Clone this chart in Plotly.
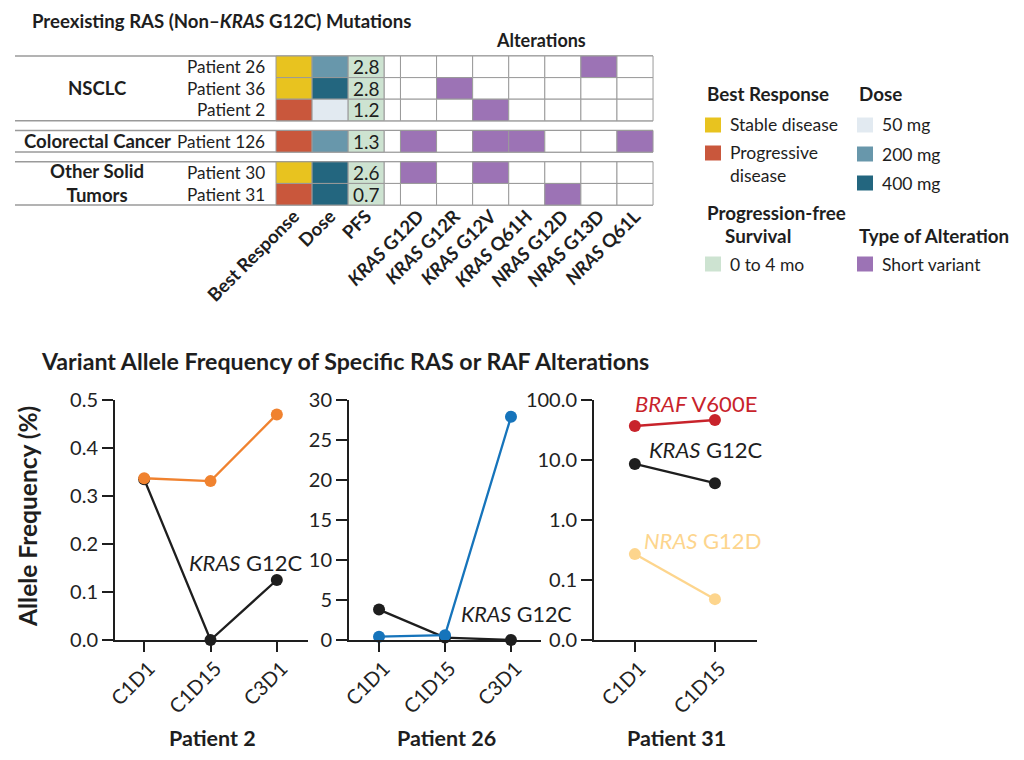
import plotly.graph_objects as go
import numpy as np

# page body has an 8px margin: the figure is sized to fit inside it
OFF = 8
W, H = 1024 - 2 * OFF, 760 - 2 * OFF
FONT = "Lato"
DARK = "#1e1e1e"

# ---------------- Top panel data ----------------
patients = ["Patient 26", "Patient 36", "Patient 2", "Patient 126", "Patient 30", "Patient 31"]
tumor_groups = ["NSCLC", "Colorectal Cancer", "Other Solid<br>Tumors"]
group_rows = [[0, 1, 2], [3], [4, 5]]
best_response = ["Stable disease", "Stable disease", "Progressive disease",
                 "Progressive disease", "Stable disease", "Progressive disease"]
dose = ["200 mg", "400 mg", "50 mg", "200 mg", "400 mg", "400 mg"]
pfs_months = [2.8, 2.8, 1.2, 1.3, 2.6, 0.7]
info_columns = ["Best Response", "Dose", "PFS"]
alteration_names = ["KRAS G12D", "KRAS G12R", "KRAS G12V", "KRAS Q61H",
                    "NRAS G12D", "NRAS G13D", "NRAS Q61L"]
alteration_present = [
    [0, 0, 0, 0, 0, 1, 0],
    [0, 1, 0, 0, 0, 0, 0],
    [0, 0, 1, 0, 0, 0, 0],
    [1, 0, 1, 1, 0, 0, 1],
    [1, 0, 1, 0, 0, 0, 0],
    [0, 0, 0, 0, 1, 0, 0],
]

response_colors = {"Stable disease": "#e8c31f", "Progressive disease": "#c9573c"}
dose_colors = {"50 mg": "#e2eaf1", "200 mg": "#6897ab", "400 mg": "#23667f"}
pfs_color = "#cde3d1"
variant_color = "#9c73b5"

# ---------------- Bottom panel data ----------------
visits = ["C1D1", "C1D15", "C3D1"]
p2_kras_g12v = [0.337, 0.331, 0.470]
p2_kras_g12c = [0.335, 0.0, 0.125]
p26_kras_g12c = [3.8, 0.3, 0.0]
p26_nras_g13d = [0.42, 0.6, 27.9]
p31_visits = ["C1D1", "C1D15"]
p31_braf_v600e = [36.9, 46.4]
p31_kras_g12c = [8.6, 4.1]
p31_nras_g12d = [0.27, 0.048]
p2_yticks = [0.0, 0.1, 0.2, 0.3, 0.4, 0.5]
p26_yticks = [0, 5, 10, 15, 20, 25, 30]
p31_yticks = [0.01, 0.1, 1, 10, 100]
p31_yticktext = ["0.0", "0.1", "1.0", "10.0", "100.0"]

ORANGE = "#f0822f"
BLUE = "#1674bb"
RED = "#c8232b"
LIGHT_ORANGE = "#fdd58d"


def pxx(x):
    return (x - OFF) / W


def pxy(y):
    return 1 - (y - OFF) / H


def note(x, y, text, size, color=DARK, xref="paper", yref="paper", xanchor="center",
         yanchor="middle", **kw):
    return dict(xref=xref, yref=yref, x=x, y=y, text=text, showarrow=False,
                xanchor=xanchor, yanchor=yanchor,
                font=dict(size=size, color=color, family=FONT), **kw)


fig = go.Figure()

# ---------------- grid geometry (in data units of the grid axis) ----------------
GAP = 0.45
row_top = []
pos = 0.0
for gi, rows in enumerate(group_rows):
    for r in rows:
        row_top.append(pos)
        pos += 1
    pos += GAP

col_left = [0, 1, 2]
spacer = (3, 3 + GAP)
alt_left = [3 + GAP + k for k in range(len(alteration_names))]
grid_right = alt_left[-1] + 1

CW, X0 = 36.08, 276.0   # px per column unit, px of column 0
RH, Y0 = 21.6, 56.0     # px per row unit, px of row 0
gx_dom = (10, 660)
gy_dom = (48, 207)

BORDER = "#9a9a9a"
shapes = []


def cell(x0, x1, y0, y1, fill):
    shapes.append(dict(type="rect", xref="x4", yref="y4", x0=x0, x1=x1, y0=y0, y1=y1,
                       fillcolor=fill, line=dict(color=BORDER, width=1), layer="above"))


annotations = []
for i, p in enumerate(patients):
    y0, y1 = row_top[i], row_top[i] + 1
    cell(col_left[0], col_left[0] + 1, y0, y1, response_colors[best_response[i]])
    cell(col_left[1], col_left[1] + 1, y0, y1, dose_colors[dose[i]])
    cell(col_left[2], col_left[2] + 1, y0, y1, pfs_color)
    cell(spacer[0], spacer[1], y0, y1, "white")
    for k, a in enumerate(alteration_names):
        cell(alt_left[k], alt_left[k] + 1, y0, y1,
             variant_color if alteration_present[i][k] else "white")
    annotations.append(note(col_left[2] + 0.5, y0 + 0.5, f"{pfs_months[i]:.1f}", 19,
                            xref="x4", yref="y4"))
    annotations.append(note((267 - X0) / CW, y0 + 0.5, p, 17.2, xref="x4", yref="y4",
                            xanchor="right"))

# group labels & separator lines
left_edge = (15 - X0) / CW
for gi, rows in enumerate(group_rows):
    top = row_top[rows[0]]
    bot = row_top[rows[-1]] + 1
    annotations.append(note((97 - X0) / CW, (top + bot) / 2, f"<b>{tumor_groups[gi]}</b>", 18.6,
                            xref="x4", yref="y4"))
    for yy in (top, bot):
        shapes.append(dict(type="line", xref="x4", yref="y4", x0=left_edge, x1=grid_right,
                           y0=yy, y1=yy, line=dict(color=BORDER, width=1.5), layer="below"))

# invisible trace to establish grid axes
fig.add_trace(go.Scatter(x=[0], y=[0], xaxis="x4", yaxis="y4", mode="markers",
                         marker=dict(opacity=0), hoverinfo="skip", showlegend=False))


def header(txt):
    parts = txt.split(" ", 1)
    if parts[0] in ("KRAS", "NRAS"):
        return f"<b><i>{parts[0]}</i> {parts[1]}</b>"
    return f"<b>{txt}</b>"


col_centers = [c + 0.5 for c in col_left] + [a + 0.5 for a in alt_left]
col_labels = [header(t) for t in info_columns + alteration_names]

# ---------------- bottom charts ----------------
def add_series(xs, ys, color, ax):
    fig.add_trace(go.Scatter(x=xs, y=ys, mode="lines+markers", xaxis="x" + ax, yaxis="y" + ax,
                             line=dict(color=color, width=2.3),
                             marker=dict(color=color, size=12), cliponaxis=False,
                             showlegend=False))


add_series(visits, p2_kras_g12c, DARK, "")
add_series(visits, p2_kras_g12v, ORANGE, "")
add_series(visits, p26_kras_g12c, DARK, "2")
add_series(visits, p26_nras_g13d, BLUE, "2")
add_series(p31_visits, p31_braf_v600e, RED, "3")
add_series(p31_visits, p31_kras_g12c, DARK, "3")
add_series(p31_visits, p31_nras_g12d, LIGHT_ORANGE, "3")

series_labels = [
    ("", 1.52, 0.506, "<i>KRAS</i> G12V", ORANGE, 22),
    ("", 1.54, 0.1625, "<i>KRAS</i> G12C", DARK, 22),
    ("2", 1.20, 30.1, "<i>NRAS</i> G13D", BLUE, 22),
    ("2", 2.08, 3.25, "<i>KRAS</i> G12C", DARK, 21.5),
    ("3", 0.76, np.log10(89), "<i>BRAF</i> V600E", RED, 22),
    ("3", 0.89, np.log10(14.7), "<i>KRAS</i> G12C", DARK, 22),
    ("3", 0.85, np.log10(0.46), "<i>NRAS</i> G12D", LIGHT_ORANGE, 22),
]
for ax, x, y, t, c, s in series_labels:
    annotations.append(note(x, y, t, s, color=c, xref="x" + ax, yref="y" + ax))

axis_common = dict(showline=True, linewidth=2, linecolor=DARK, ticks="outside",
                   tickwidth=2, tickcolor=DARK, showgrid=False, zeroline=False,
                   automargin=False,
                   tickfont=dict(size=20, color="#222", family=FONT))
xaxis_extra = dict(tickangle=-45, ticklen=10, ticklabelshift=5, ticklabelstandoff=-3)
ydom = [pxy(640), pxy(400)]

layout = dict(
    width=W, height=H, margin=dict(l=0, r=0, t=0, b=0, pad=0), autosize=False,
    paper_bgcolor="white", plot_bgcolor="rgba(0,0,0,0)",
    font=dict(family=FONT, color=DARK),
    showlegend=False,
    xaxis=dict(domain=[pxx(115), pxx(308)], anchor="y", type="category",
               range=[-0.44, 2.47], **xaxis_extra, **axis_common),
    yaxis=dict(domain=ydom, anchor="x", range=[0, 0.5], tickvals=p2_yticks,
               tickformat=".1f", ticklen=11, **axis_common),
    xaxis2=dict(domain=[pxx(349), pxx(541)], anchor="y2", type="category",
                range=[-0.455, 2.455], **xaxis_extra, **axis_common),
    yaxis2=dict(domain=ydom, anchor="x2", range=[0, 30], tickvals=p26_yticks,
                ticklen=11, **axis_common),
    xaxis3=dict(domain=[pxx(594), pxx(757)], anchor="y3", type="category",
                range=[-0.51, 1.525], **xaxis_extra, **axis_common),
    yaxis3=dict(domain=ydom, anchor="x3", type="log", range=[-2, 2],
                tickvals=p31_yticks, ticktext=p31_yticktext, ticklen=11, **axis_common),
    xaxis4=dict(domain=[pxx(gx_dom[0]), pxx(gx_dom[1])], anchor="y4",
                range=[(gx_dom[0] - X0) / CW, (gx_dom[1] - X0) / CW],
                showline=False, showgrid=False, zeroline=False, ticks="", automargin=False,
                tickvals=col_centers, ticktext=col_labels, tickangle=-45,
                ticklabelstandoff=-6,
                tickfont=dict(size=18.5, color=DARK, family=FONT)),
    yaxis4=dict(domain=[pxy(gy_dom[1]), pxy(gy_dom[0])], anchor="x4",
                range=[(gy_dom[1] - Y0) / RH, (gy_dom[0] - Y0) / RH], automargin=False,
                showline=False, showgrid=False, zeroline=False, showticklabels=False, ticks=""),
)

# ---------------- titles ----------------
annotations += [
    note(pxx(30), pxy(20.5), "<b>Preexisting RAS (Non–<i>KRAS</i> G12C) Mutations</b>", 18.6,
         xanchor="left"),
    note(pxx(541), pxy(40), "<b>Alterations</b>", 18),
    note(pxx(39), pxy(361), "<b>Variant Allele Frequency of Specific RAS or RAF Alterations</b>",
         23.2, xanchor="left"),
    note(pxx(28), pxy(517), "<b>Allele Frequency (%)</b>", 24.5, textangle=-90),
]
for name, xc in [("Patient 2", 212), ("Patient 26", 446), ("Patient 31", 676)]:
    annotations.append(note(pxx(xc), pxy(737.5), f"<b>{name}</b>", 21.5))

# ---------------- legend (layout) ----------------
legend_sections = [
    ("Best Response", 705, 93, [(response_colors["Stable disease"], ["Stable disease"], 125),
                                (response_colors["Progressive disease"], ["Progressive", "disease"], 153)]),
    ("Dose", 857, 93, [(dose_colors[d], [d], yy) for d, yy in zip(["50 mg", "200 mg", "400 mg"], [125, 154, 183])]),
    ("Progression-free|Survival", 705, 213, [(pfs_color, ["0 to 4 mo"], 264)]),
    ("Type of Alteration", 857, 235, [(variant_color, ["Short variant"], 264)]),
]
for title, lx, ly, items in legend_sections:
    if "|" in title:
        t1, t2 = title.split("|")
        annotations.append(note(pxx(lx), pxy(ly), f"<b>{t1}</b>", 18.8, xanchor="left"))
        annotations.append(note(pxx(723), pxy(ly + 22), f"<b>{t2}</b>", 18.8, xanchor="left"))
    else:
        annotations.append(note(pxx(lx), pxy(ly), f"<b>{title}</b>", 18.8, xanchor="left"))
    for color, lines, yy in items:
        shapes.append(dict(type="rect", xref="paper", yref="paper",
                           x0=pxx(lx), x1=pxx(lx + 16), y0=pxy(yy - 7.5), y1=pxy(yy + 7.5),
                           fillcolor=color, line=dict(width=0)))
        for li, ln in enumerate(lines):
            annotations.append(note(pxx(lx + 23), pxy(yy + 22 * li), ln, 17.5, xanchor="left"))

layout["shapes"] = shapes
layout["annotations"] = annotations
fig.update_layout(**layout)
fig.write_html("out.html")
